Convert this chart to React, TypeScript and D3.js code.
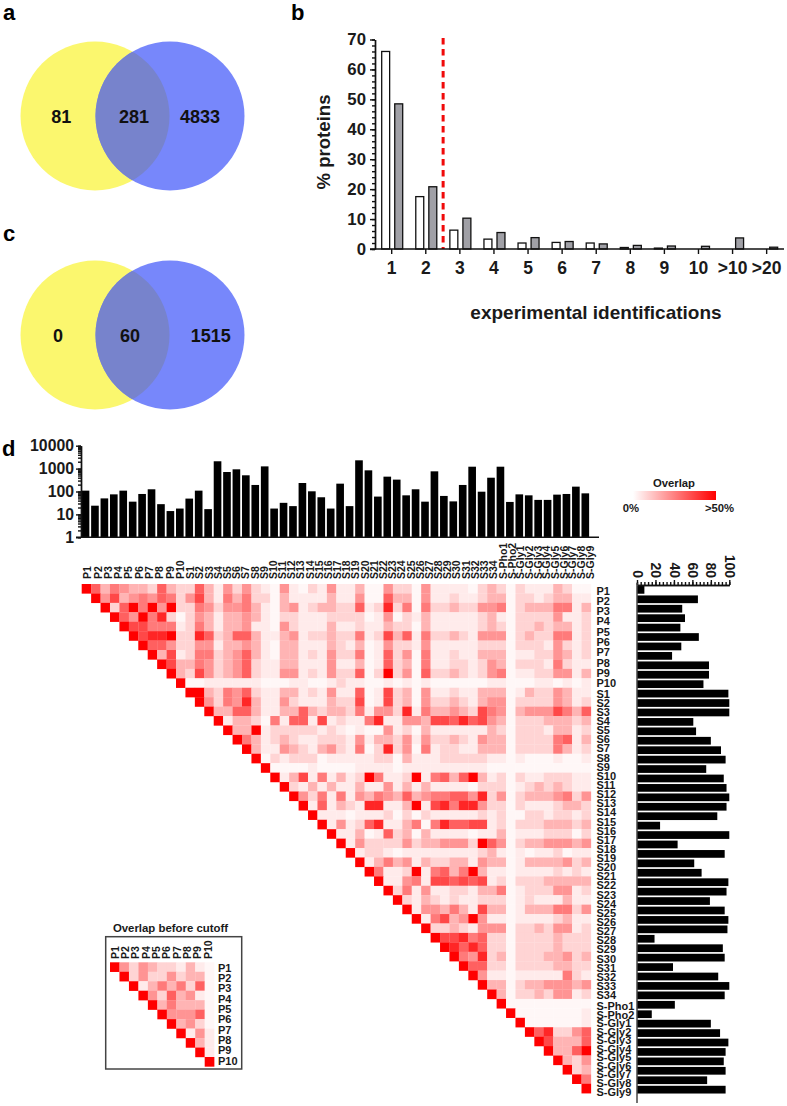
import React, { useEffect, useRef } from 'react';
import * as d3 from 'd3';

const WIDTH = 787;
const HEIGHT = 1106;
const FONT = '"Liberation Sans", Arial, sans-serif';
const INK = '#1a1a1a';

// venn counts
const vennA = [81, 281, 4833];
const vennC = [0, 60, 1515];

// panel b
const idCategories = ['1', '2', '3', '4', '5', '6', '7', '8', '9', '10', '>10', '>20'];
const idWhite = [66, 17.5, 6.3, 3.3, 2, 2.2, 2, 0.5, 0.3, 0, 0, 0];
const idGrey = [48.5, 20.8, 10.3, 5.5, 3.8, 2.5, 1.7, 1.2, 1, 0.9, 3.7, 0.6];

// panel d, the picture labels 55 samples but only has 54 rows of bars and cells
const sampleLabels = [
  ...d3.range(1, 11).map(i => 'P' + i),
  ...d3.range(1, 35).map(i => 'S' + i),
  'S-Pho1', 'S-Pho2',
  ...d3.range(1, 10).map(i => 'S-Gly' + i),
];
const topCounts = [
  109, 24, 50, 75, 109, 36, 78, 125, 28, 14, 18, 49, 109, 17, 2090, 710, 930, 510, 193, 1250,
  18, 32, 23, 235, 102, 56, 18, 220, 23, 2300, 840, 60, 445, 330, 68, 125, 36, 760, 64, 37,
  193, 1210, 98, 400, 1210, 35, 75, 68, 43, 43, 73, 78, 163, 83,
];
const rightPercent = [
  8, 66, 49, 52, 47, 67, 48, 38, 78, 78, 72, 99, 100, 100, 61, 64, 80, 91, 96, 75,
  94, 97, 100, 97, 87, 25, 100, 44, 95, 62, 70, 99, 97, 79, 95, 99, 98, 19, 93, 95,
  39, 88, 100, 95, 41, 16, 80, 90, 99, 96, 94, 96, 76, 96,
];

// overlap levels 0-9 (9 = >50%), each row starts on the diagonal
const overlapRows = [
  '9635433263226314242104102141 13004220411110232021113200',
  '947345465247315352203111131 14006330411211233022123311',
  '92695949225424453103412332 26128250522322445023335513',
  '9649582024313343102211122 22014021311111231022224112',
  '977555125313341104211131 12113220311111232022323312',
  '97889228623663113412232 25127361522321444023225512',
  '9664224413343103311132 13014221411111222022214212',
  '937125523463103312142 25016240511211333011224312',
  '97335423462113311141 13016230511221243022215211',
  '9327423462114412142 26029240622321245011224413',
  '900111111000110012 11001010100000011000110101',
  '99325462113312141 16017230411211333013224311',
  '9425483114211132 27017230422321344022224312',
  '933663113363233 25144281533432754034447536',
  '91332051661712 11581144377686743022233323',
  '9339122222121 01004120311111132022213312',
  '953123211222 14133241422321433022225613',
  '93114321342 15028240512211333022225312',
  '9021222011 11122031112222211010001001',
  '900001000 01111011111111100000000000',
  '91371513 12951129156369312021122211',
  '9213131 13114131311110222012323211',
  '942515 14354363455664824023334524',
  '91613 21881139178588422021112332',
  '9111 01112020211111212002212212',
  '914 12681135058667712022233323',
  '91 13016230311110113011122202',
  '9 14222242334442964023344434',
  '91221011111111231010112011',
  '9135341322331433013333423',
  '951129156359311011112121',
  '91145177676712022233333',
  '9251411221335012224412',
  '921321211222012111311',
  '91443531733013335524',
  '9157349411011112311',
  '922321444022324412',
  '97785622022223222',
  '9868622022223222',
  '954823022233423',
  '96622022223322',
  '9411011111521',
  '933023344434',
  '93022324412',
  '9000000000',
  '900000001',
  '90000001',
  '9682246',
  '973336',
  '93369',
  '9324',
  '923',
  '95',
  '9',
];

const insetLabels = d3.range(1, 11).map(i => 'P' + i);
const insetRows = [
  '94243221310',
  '9242242330',
  '913535260',
  '94263410',
  '9353330',
  '944460',
  '93420',
  '9141',
  '931',
  '91',
  '9',
];

const heatLevels = ['#fff7f7', '#ffebeb', '#ffd4d4', '#ffb4b4', '#ff9494', '#ff7a7a', '#ff6060', '#ff4848', '#ff2626', '#ff0000'];
const heat = d3.scaleLinear<string>().domain(d3.range(10)).range(heatLevels);

type Sel = d3.Selection<SVGGElement, unknown, null, undefined>;

function styleAxis(g: Sel, size: number) {
  g.attr('font-family', FONT).attr('font-weight', 'bold').attr('font-size', size);
  g.selectAll('text').attr('fill', INK);
  g.selectAll('path,line').attr('stroke', '#111').attr('stroke-width', 1.4);
}

function addText(root: Sel, s: string, x: number, y: number, size: number, anchor = 'middle') {
  return root.append('text')
    .attr('x', x).attr('y', y)
    .attr('font-family', FONT).attr('font-weight', 'bold').attr('font-size', size)
    .attr('text-anchor', anchor).attr('fill', INK)
    .text(s);
}

function drawVenn(root: Sel, cy: number, counts: number[], labelX: number[], id: string) {
  const r = 74.5;
  root.append('clipPath').attr('id', id).append('circle').attr('cx', 95).attr('cy', cy).attr('r', r);
  root.append('circle').attr('cx', 95).attr('cy', cy).attr('r', r).attr('fill', '#fbf76e');
  root.append('circle').attr('cx', 170).attr('cy', cy).attr('r', r).attr('fill', '#7787fb');
  root.append('circle').attr('cx', 170).attr('cy', cy).attr('r', r).attr('fill', '#7783cc').attr('clip-path', `url(#${id})`);
  counts.forEach((c, i) => addText(root, String(c), labelX[i], cy + 6.5, 18).attr('fill', '#111'));
}

function drawBars(root: Sel) {
  const x = d3.scaleBand<string>().domain(idCategories).range([374.65, 783.7]);
  const y = d3.scaleLinear().domain([0, 70]).range([249, 39.5]);
  const inner = d3.scaleBand<string>().domain(['white', 'grey']).range([-10, 11]).paddingInner(0.39);
  const center = (c: string) => (x(c) as number) + x.bandwidth() / 2;

  const series = [
    { key: 'white', values: idWhite, fill: '#fff' },
    { key: 'grey', values: idGrey, fill: '#a0a0a6' },
  ];
  series.forEach(s => {
    const points = s.values
      .map((v, i) => ({ cat: idCategories[i], v }))
      .filter(d => d.v > 0);
    root.append('g').selectAll('rect')
      .data(points)
      .enter()
      .append('rect')
      .attr('x', d => center(d.cat) + (inner(s.key) as number))
      .attr('y', d => y(d.v))
      .attr('width', inner.bandwidth())
      .attr('height', d => y(0) - y(d.v))
      .attr('fill', s.fill)
      .attr('stroke', '#111')
      .attr('stroke-width', 1.3);
  });

  // red cutoff between 2 and 3
  const cut = (center('2') + center('3')) / 2 + 0.3;
  root.append('line')
    .attr('x1', cut).attr('x2', cut).attr('y1', 38).attr('y2', 249)
    .attr('stroke', '#f00a0a').attr('stroke-width', 3).attr('stroke-dasharray', '6.5,4.5');

  const minor = root.append('g').attr('transform', 'translate(375,0)')
    .call(d3.axisLeft(y).tickValues(d3.range(0, 71, 2)).tickSize(3).tickFormat(() => '').tickSizeOuter(0) as any);
  styleAxis(minor, 10);
  const yAxis = root.append('g').attr('transform', 'translate(375,0)')
    .call(d3.axisLeft(y).tickValues(d3.range(0, 71, 10)).tickSize(5).tickPadding(4).tickSizeOuter(0) as any);
  styleAxis(yAxis, 16.8);

  const xAxis = root.append('g').attr('transform', 'translate(0,249)')
    .call(d3.axisBottom(x).tickSize(5).tickPadding(7.5).tickSizeOuter(0) as any);
  styleAxis(xAxis, 17.5);
  xAxis.select('.domain').remove();
  root.append('line').attr('x1', 370).attr('x2', 784).attr('y1', 249).attr('y2', 249)
    .attr('stroke', '#111').attr('stroke-width', 1.4);

  addText(root, 'experimental identifications', 596, 319, 19);
  addText(root, '% proteins', 0, 0, 18.6).attr('transform', 'translate(329.5,142) rotate(-90)');
}

function drawHeat(root: Sel, rows: string[], x0: number, y0: number, step: number) {
  const n = rows.length;
  const x = d3.scaleBand<number>().domain(d3.range(n)).range([x0, x0 + n * step]);
  const y = d3.scaleBand<number>().domain(d3.range(n)).range([y0, y0 + n * step]);
  const cells = rows.flatMap((row, r) =>
    row.replace(' ', '').split('').map((ch, k) => ({ r, c: r + k, v: +ch })));
  root.append('g').selectAll('rect')
    .data(cells)
    .enter()
    .append('rect')
    .attr('x', d => x(d.c) as number)
    .attr('y', d => y(d.r) as number)
    .attr('width', x.bandwidth() + 0.2)
    .attr('height', y.bandwidth() + 0.2)
    .attr('fill', d => heat(d.v));
}

function drawOverlap(root: Sel) {
  const n = topCounts.length;
  const xBand = d3.scaleBand<number>().domain(d3.range(n)).range([81.7, 81.7 + n * 9.43]);

  // top log bars
  const yLog = d3.scaleLog().domain([1, 10000]).range([537.3, 445.7]);
  root.append('g').selectAll('rect')
    .data(topCounts)
    .enter()
    .append('rect')
    .attr('x', (d, i) => xBand(i) as number)
    .attr('y', d => yLog(d))
    .attr('width', xBand.bandwidth() * 0.81)
    .attr('height', d => yLog(1) - yLog(d))
    .attr('fill', '#000');

  const minor = root.append('g').attr('transform', 'translate(81,0)')
    .call(d3.axisLeft(yLog).tickValues(yLog.ticks()).tickSize(3).tickFormat(() => '').tickSizeOuter(0) as any);
  styleAxis(minor, 10);
  const major = root.append('g').attr('transform', 'translate(81,0)')
    .call(d3.axisLeft(yLog).tickValues([1, 10, 100, 1000, 10000]).tickFormat(d3.format('d') as any).tickSize(5).tickPadding(2).tickSizeOuter(0) as any);
  styleAxis(major, 15.8);
  root.append('line').attr('x1', 76).attr('x2', 599).attr('y1', 537.3).attr('y2', 537.3)
    .attr('stroke', '#111').attr('stroke-width', 1.4);

  drawHeat(root, overlapRows, 81.7, 584, 9.43);

  // sample labels are spaced by hand in the picture, tighter towards the end
  const labelDomain = [0, 9, 10, 43, 44, 45, 46, 54];
  const labelX = d3.scaleLinear().domain(labelDomain).range([87.5, 180, 190.5, 493.3, 503, 512, 520.3, 590]);
  const labelY = d3.scaleLinear().domain(labelDomain).range([590.7, 683.4, 693.7, 995.3, 1005.7, 1015, 1023.3, 1091.7]);
  sampleLabels.forEach((s, i) => {
    addText(root, s, 0, 0, 10.5, 'start').attr('transform', `translate(${labelX(i) + 3.8},579) rotate(-90)`);
    addText(root, s, 596.5, labelY(i), 11, 'start').attr('dy', '0.35em');
  });

  // right bars
  const xRight = d3.scaleLinear().domain([0, 100]).range([637, 729.3]);
  const yRight = d3.scaleBand<number>().domain(d3.range(n)).range([586, 586 + n * 9.43]);
  root.append('g').selectAll('rect')
    .data(rightPercent)
    .enter()
    .append('rect')
    .attr('x', xRight(0))
    .attr('y', (d, i) => yRight(i) as number)
    .attr('width', d => xRight(d) - xRight(0))
    .attr('height', yRight.bandwidth() * 0.82)
    .attr('fill', '#000');
  const topMinor = root.append('g').attr('transform', 'translate(0,585)')
    .call(d3.axisTop(xRight).tickValues(d3.range(0, 101, 4)).tickSize(3).tickFormat(() => '').tickSizeOuter(0) as any);
  styleAxis(topMinor, 10);
  const topAxis = root.append('g').attr('transform', 'translate(0,585)')
    .call(d3.axisTop(xRight).tickValues(d3.range(0, 101, 20)).tickSize(5).tickSizeOuter(0) as any);
  styleAxis(topAxis, 14);
  topAxis.selectAll('text')
    .attr('transform', 'rotate(90)')
    .attr('text-anchor', 'end')
    .attr('x', -7).attr('y', 0).attr('dy', '0.35em');
  root.append('line').attr('x1', 637).attr('x2', 637).attr('y1', 583).attr('y2', 1103)
    .attr('stroke', '#444').attr('stroke-width', 1.5);

  // legend
  const grad = root.append('linearGradient').attr('id', 'overlapGrad');
  grad.append('stop').attr('offset', '0%').attr('stop-color', '#fff');
  grad.append('stop').attr('offset', '100%').attr('stop-color', '#f00');
  root.append('rect').attr('x', 633).attr('y', 491).attr('width', 83).attr('height', 9).attr('fill', 'url(#overlapGrad)');
  addText(root, 'Overlap', 674, 487, 11.3);
  addText(root, '0%', 631, 512, 11.3);
  addText(root, '>50%', 719.5, 512, 11.3);

  // inset
  root.append('rect').attr('x', 105.7).attr('y', 936.7).attr('width', 136).attr('height', 132.3)
    .attr('fill', 'none').attr('stroke', '#444').attr('stroke-width', 1.5);
  addText(root, 'Overlap before cutoff', 170.5, 932, 11.4);
  drawHeat(root, insetRows, 110, 962.3, 9.47);
  const insetX = d3.scalePoint<string>().domain(insetLabels).range([115, 208]);
  const insetY = d3.scalePoint<string>().domain(insetLabels).range([967.7, 1060.7]);
  insetLabels.forEach(s => {
    addText(root, s, 0, 0, 10.5, 'start').attr('transform', `translate(${(insetX(s) as number) + 3.8},959) rotate(-90)`);
    addText(root, s, 218, insetY(s) as number, 11, 'start').attr('dy', '0.35em');
  });
}

export default function App() {
  const ref = useRef<SVGGElement>(null);

  useEffect(() => {
    const root = d3.select(ref.current as SVGGElement);
    root.selectAll('*').remove();

    addText(root, 'a', 3, 20, 22, 'start').attr('fill', '#000');
    addText(root, 'b', 291, 20, 22, 'start').attr('fill', '#000');
    addText(root, 'c', 3, 241, 22, 'start').attr('fill', '#000');
    addText(root, 'd', 2, 456, 22, 'start').attr('fill', '#000');

    drawVenn(root, 116, vennA, [61.3, 134, 200], 'clipA');
    drawVenn(root, 335, vennC, [58, 130, 210.7], 'clipC');
    drawBars(root);
    drawOverlap(root);
  }, []);

  return (
    <svg width={WIDTH} height={HEIGHT} style={{ position: 'absolute', left: 0, top: 0, background: '#fff' }}>
      <g ref={ref} />
    </svg>
  );
}
